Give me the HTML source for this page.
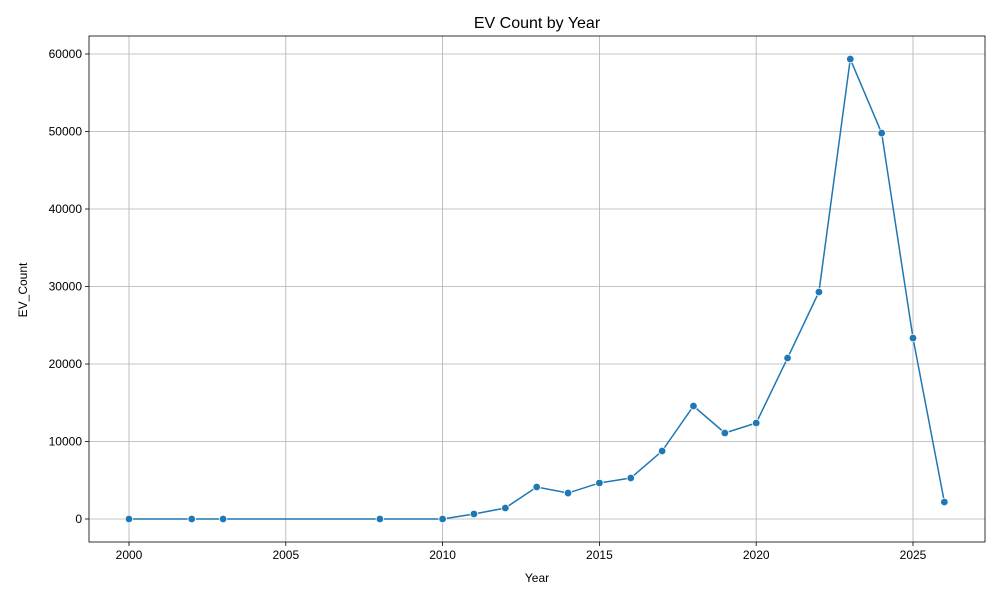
<!DOCTYPE html>
<html><head><meta charset="utf-8"><style>
body{margin:0;background:#fff;font-family:"Liberation Sans",sans-serif}
</style></head><body>
<svg id="chart" width="1000" height="600" xmlns="http://www.w3.org/2000/svg" font-family="Liberation Sans, sans-serif"></svg>
<script>
const years=[2000,2002,2003,2008,2010,2011,2012,2013,2014,2015,2016,2017,2018,2019,2020,2021,2022,2023,2024,2025,2026];
const evCounts=[0,0,0,0,0,650,1420,4130,3350,4650,5290,8770,14580,11100,12390,20770,29290,59350,49800,23350,2190];
const xTicks=[2000,2005,2010,2015,2020,2025];
const yTicks=[0,10000,20000,30000,40000,50000,60000];
const L=89,R=985,T=36,B=542;
const x=v=>129+(v-2000)*(913-129)/25;
const y=v=>519-v*(519-54)/60000;
const svg=document.getElementById('chart');
const NS='http://www.w3.org/2000/svg';
function mk(tag,attrs,parent){const e=document.createElementNS(NS,tag);for(const k in attrs)e.setAttribute(k,attrs[k]);(parent||svg).appendChild(e);return e;}
const grid=mk('g',{});


xTicks.forEach(t=>{
 mk('line',{x1:x(t),x2:x(t),y1:T,y2:B,stroke:'#b0b0b0','stroke-width':0.8},grid);
 mk('line',{x1:x(t),x2:x(t),y1:B,y2:B+4,stroke:'#000','stroke-width':0.8});
 const tx=mk('text',{x:x(t),y:B+17,'text-anchor':'middle','font-size':12});
 tx.textContent=t;
 
 
});
yTicks.forEach(t=>{
 mk('line',{x1:L,x2:R,y1:y(t),y2:y(t),stroke:'#b0b0b0','stroke-width':0.8},grid);
 mk('line',{x1:L-4,x2:L,y1:y(t),y2:y(t),stroke:'#000','stroke-width':0.8});
 const tx=mk('text',{x:L-7,y:y(t)+4,'text-anchor':'end','font-size':12});
 tx.textContent=t;
 
 
});
const frame=mk('rect',{x:L,y:T,width:R-L,height:B-T,fill:'none',stroke:'#000','stroke-width':0.8});


const line=mk('polyline',{points:years.map((yr,i)=>x(yr)+','+y(evCounts[i])).join(' '),fill:'none',stroke:'#1f77b4','stroke-width':1.5});


years.forEach((yr,i)=>{
 const c=mk('circle',{cx:x(yr),cy:y(evCounts[i]),r:3.8,fill:'#1f77b4',stroke:'#fff','stroke-width':0.8});
 
 
});
const title=mk('text',{x:537,y:28,'text-anchor':'middle','font-size':16});
title.textContent='EV Count by Year';


const xl=mk('text',{x:537,y:582,'text-anchor':'middle','font-size':12});
xl.textContent='Year';


const yl=mk('text',{x:27,y:290,'text-anchor':'middle','font-size':12,transform:'rotate(-90 27 290)'});
yl.textContent='EV_Count';


</script>
</body></html>
